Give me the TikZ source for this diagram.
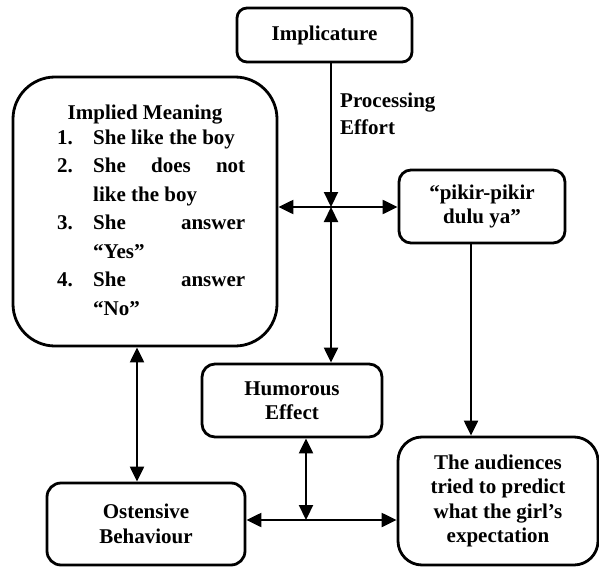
\documentclass[tikz,border=0pt]{standalone}
\usepackage{fontspec}
\setmainfont{Liberation Serif}
\usetikzlibrary{arrows.meta}

% text sizes used in the chart
\newcommand{\diagfont}{\fontsize{21}{24.5}\selectfont\bfseries}
\newcommand{\listfont}{\fontsize{21}{28.5}\selectfont\bfseries}
\newcommand{\notefont}{\fontsize{21}{27}\selectfont\bfseries}

\begin{document}
\begin{tikzpicture}[x=1pt,y=-1pt,
  box/.style={draw, line width=2.8pt, inner sep=0pt, align=center, font=\diagfont},
  oneway/.style={line width=2.2pt, -{Triangle[length=15pt,width=14pt]}},
  twoway/.style={line width=2.2pt, {Triangle[length=15pt,width=14pt]}-{Triangle[length=15pt,width=14pt]}}
]
\useasboundingbox (0,0) rectangle (599,567);

% boxes
\node[box, rounded corners=10pt, minimum width=175pt, minimum height=54pt]
  (implicature) at (324.5,35) {Implicature};
\node[box, rounded corners=42pt, minimum width=264pt, minimum height=269pt]
  (implied) at (145,211.5) {};
\node[box, rounded corners=12pt, minimum width=166pt, minimum height=73pt]
  (pikir) at (482,206.5) {“pikir-pikir\\dulu ya”};
\node[box, rounded corners=13pt, minimum width=180pt, minimum height=73pt]
  (humorous) at (292,400.5) {Humorous\\Effect};
\node[box, rounded corners=14pt, minimum width=198pt, minimum height=82pt]
  (ostensive) at (146,524) {Ostensive\\Behaviour};
\node[box, rounded corners=24pt, minimum width=200pt, minimum height=128pt]
  (audiences) at (498,501) {The audiences\\tried to predict\\what the girl’s\\expectation};

% contents of the implied-meaning box
\node[anchor=base, inner sep=0pt, font=\diagfont] (meaninghead) at (145,120) {Implied Meaning};
\node[anchor=base west, inner sep=0pt, font=\listfont] (meaninglist) at (57,144) {%
  \begin{tabular}[t]{@{}p{36pt}@{}l@{}}
  1. & She like the boy\\
  2. & \hbox to 152pt{She\hfill does\hfill not}\\
     & like the boy\\
  3. & \hbox to 152pt{She\hfill answer}\\
     & “Yes”\\
  4. & \hbox to 152pt{She\hfill answer}\\
     & “No”
  \end{tabular}};

% label beside the vertical link
\node[anchor=base west, inner sep=0pt, font=\notefont] (effort) at (340,107) {%
  \begin{tabular}[t]{@{}l@{}}Processing\\Effort\end{tabular}};

% crossing points of the links
\coordinate (hub) at (331,207);
\coordinate (lowhub) at (306,520);

% links
\draw[oneway] (implicature.south -| hub) -- (hub);
\draw[twoway] (implied.east |- hub) -- (pikir.west |- hub);
\draw[twoway] (hub) -- (hub |- humorous.north);
\draw[oneway] ([xshift=-11pt]pikir.south) -- ([xshift=-11pt]pikir.south |- audiences.north);
\draw[twoway] ([xshift=-8pt]implied.south) -- ([xshift=-8pt]implied.south |- ostensive.north);
\draw[twoway] (humorous.south -| lowhub) -- (lowhub);
\draw[twoway] (ostensive.east |- lowhub) -- (audiences.west |- lowhub);
\end{tikzpicture}
\end{document}
